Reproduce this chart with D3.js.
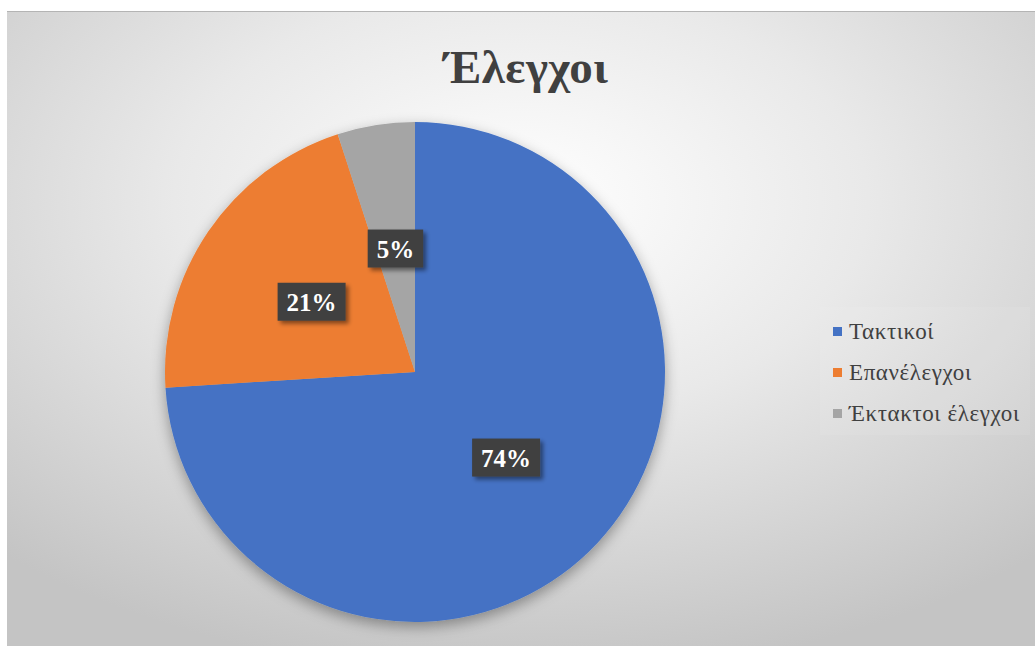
<!DOCTYPE html>
<html>
<head>
<meta charset="utf-8">
<script src="https://cdn.jsdelivr.net/npm/d3@7"></script>
<style>
  body { margin: 0; background: #fff; }
  svg { display: block; }
  text { font-family: 'Liberation Serif'; }
</style>
</head>
<body>
<svg id="chart"></svg>
<script>
// Έλεγχοι - pie
const categories = ["Τακτικοί", "Επανέλεγχοι", "Έκτακτοι έλεγχοι"]
const values = [74, 21, 5]
const colors = ["#4472C4", "#ED7D31", "#A5A5A5"]
const title = "Έλεγχοι"

const width = 1035
const height = 646
const serif = "'Liberation Serif'"

const svg = d3.select("#chart")
    .attr("width", width)
    .attr("height", height)

const defs = svg.append("defs")

// background gradient
const bg = defs.append("radialGradient")
    .attr("id", "bg")
    .attr("cx", "50%").attr("cy", "30%")
    .attr("r", "75%")
bg.append("stop").attr("offset", "0%").attr("stop-color", "#ffffff")
bg.append("stop").attr("offset", "45%").attr("stop-color", "#e9e9e9")
bg.append("stop").attr("offset", "100%").attr("stop-color", "#c4c4c4")

const shadow = defs.append("filter")
    .attr("id", "shadow")
    .attr("x", "-20%").attr("y", "-20%")
    .attr("width", "140%").attr("height", "140%")
shadow.append("feDropShadow")
    .attr("dx", 0).attr("dy", 5)
    .attr("stdDeviation", 7)
    .attr("flood-color", "#000")
    .attr("flood-opacity", 0.35)

const boxShadow = defs.append("filter")
    .attr("id", "boxShadow")
    .attr("x", "-30%").attr("y", "-30%")
    .attr("width", "160%").attr("height", "160%")
boxShadow.append("feDropShadow")
    .attr("dx", 3).attr("dy", 3)
    .attr("stdDeviation", 2)
    .attr("flood-color", "#000")
    .attr("flood-opacity", 0.45)

// chart area
svg.append("rect")
    .attr("x", 7).attr("y", 11)
    .attr("width", width - 7).attr("height", height - 11)
    .attr("fill", "url(#bg)")
svg.append("line")
    .attr("x1", 7).attr("x2", width)
    .attr("y1", 11.5).attr("y2", 11.5)
    .attr("stroke", "#b4b4b4")

svg.append("text")
    .attr("x", 526).attr("y", 83)
    .attr("text-anchor", "middle")
    .style("font-family", serif)
    .style("font-weight", "bold")
    .style("font-size", "47px")
    .style("letter-spacing", "0.5px")
    .attr("fill", "#404040")
    .text(title)

// pie
const cx = 415, cy = 372, radius = 250

const pie = d3.pie().sort(null).value(d => d)
const arc = d3.arc().innerRadius(0).outerRadius(radius)
const arcs = pie(values)

const g = svg.append("g").attr("transform", `translate(${cx},${cy})`)

g.append("g")
    .attr("filter", "url(#shadow)")
    .selectAll("path")
    .data(arcs)
    .enter()
    .append("path")
    .attr("d", arc)
    .attr("fill", (d, i) => colors[i])

// labels
const labels = g.selectAll("g.label")
    .data(arcs)
    .enter()
    .append("g")
    .attr("class", "label")
    .attr("transform", d => `translate(${arc.centroid(d)})`)

labels.each(function (d) {
    const el = d3.select(this)
    const box = el.append("rect")
    const t = el.append("text")
        .attr("text-anchor", "middle")
        .attr("y", 9)
        .style("font-family", serif)
        .style("font-weight", "bold")
        .style("font-size", "25px")
        .attr("fill", "#ffffff")
        .text(d.data + "%")
    const w = t.node().getComputedTextLength() + 18
    box.attr("x", -w / 2).attr("y", -19)
        .attr("width", w).attr("height", 38)
        .attr("fill", "#404040")
        .attr("filter", "url(#boxShadow)")
})

// legend
const legend = svg.append("g").attr("transform", "translate(833,331)")

legend.append("rect")
    .attr("x", -13).attr("y", -24)
    .attr("width", 210).attr("height", 128)
    .attr("fill", "#ffffff")
    .attr("opacity", 0.08)

const items = legend.selectAll("g.item")
    .data(categories)
    .enter()
    .append("g")
    .attr("class", "item")
    .attr("transform", (d, i) => `translate(0,${i * 41})`)

items.append("rect")
    .attr("x", 0).attr("y", -4)
    .attr("width", 9).attr("height", 9)
    .attr("fill", (d, i) => colors[i])

items.append("text")
    .attr("x", 16).attr("y", 8)
    .style("font-family", serif)
    .style("font-size", "23px")
    .style("letter-spacing", "0.6px")
    .attr("fill", "#404040")
    .text(d => d)
</script>
</body>
</html>
